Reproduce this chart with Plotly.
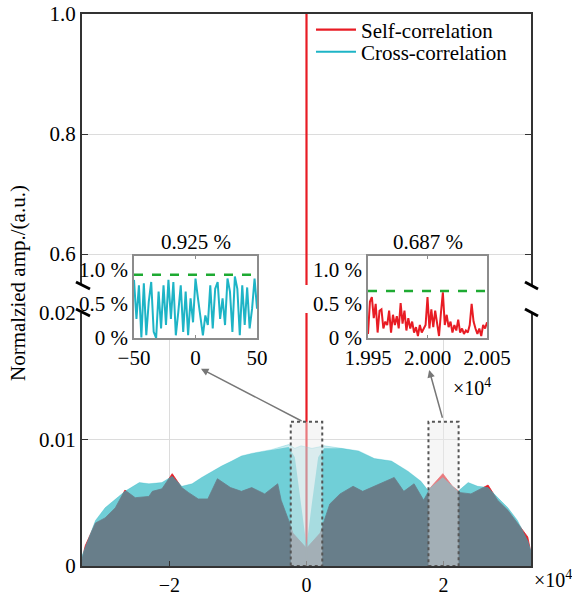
import plotly.graph_objects as go
import numpy as np

FONT = "Liberation Serif, Times New Roman, DejaVu Serif, serif"

# ---------------- data ----------------
# main panel envelopes: lag in units of 1e4, amplitude in units of 1e-3
cross_lag = [-3.277, -3.23, -3.08, -2.94, -2.79, -2.65, -2.44, -2.30, -2.11, -1.96,
             -1.82, -1.67, -1.53, -1.38, -1.24, -1.09, -0.95, -0.80, -0.51, -0.26,
             -0.17, -0.08, 0.0, 0.08, 0.17, 0.26, 0.51, 0.76, 0.99, 1.24,
             1.48, 1.67, 1.77, 1.99, 2.21, 2.36, 2.50, 2.65, 2.79, 2.94,
             3.08, 3.23, 3.277]
cross_outer = [0.8, 1.5, 3.6, 4.6, 5.3, 5.9, 6.6, 6.5, 6.6, 7.1,
               6.3, 6.5, 7.0, 7.5, 7.9, 8.3, 8.7, 8.9, 9.2, 9.6,
               9.3, 9.5, 9.4, 9.3, 9.4, 9.5, 9.3, 9.1, 8.5, 8.3,
               7.5, 6.7, 6.0, 7.0, 5.9, 6.6, 6.3, 6.2, 5.4, 4.6,
               3.6, 2.0, 1.2]
cross_dense = [0.8, 1.5, 3.6, 4.6, 5.3, 5.9, 6.6, 6.5, 6.6, 7.1,
               6.3, 6.5, 7.0, 7.5, 7.9, 8.3, 8.7, 8.9, 9.2, 9.4,
               8.6, 5.0, 1.6, 5.0, 8.6, 9.3, 9.3, 9.1, 8.5, 8.3,
               7.5, 6.7, 6.0, 7.0, 5.9, 6.6, 6.3, 6.2, 5.4, 4.6,
               3.6, 2.0, 1.2]

self_lag = [-3.277, -3.23, -3.08, -2.94, -2.79, -2.65, -2.50, -2.30, -2.25, -2.11,
            -1.96, -1.82, -1.72, -1.58, -1.44, -1.30, -1.11, -0.95, -0.80, -0.61,
            -0.42, -0.37, -0.26, -0.20, 0.0, 0.20, 0.26, 0.34, 0.49, 0.68,
            0.82, 1.06, 1.28, 1.42, 1.57, 1.71, 1.81, 1.99, 2.13, 2.25,
            2.40, 2.65, 2.79, 2.94, 3.08, 3.23, 3.277]
self_val = [0.5, 1.6, 3.4, 3.8, 4.6, 6.0, 5.4, 5.5, 5.9, 6.1,
            7.3, 6.2, 5.8, 5.3, 5.3, 6.9, 6.2, 5.9, 6.2, 5.7,
            6.5, 5.2, 3.6, 2.6, 1.4, 2.6, 3.6, 4.9, 5.7, 6.3,
            5.9, 6.5, 7.0, 5.9, 6.5, 5.2, 6.2, 7.3, 6.3, 5.8,
            5.7, 6.4, 5.2, 4.4, 3.4, 2.3, 1.0]

self_peak_lag = 0
self_peak_value = 1.0

# inset 1: cross-correlation, lags -50..50 (values in %)
inset1_lag = list(range(-50, 51, 2))
inset1_val = [0.85, 0.28, 0.77, 0.01, 0.80, 0.04, 0.53, 0.82, 0.09, 0.00,
              0.68, 0.14, 0.77, 0.19, 0.85, 0.28, 0.82, 0.04, 0.38, 0.77,
              0.09, 0.68, 0.04, 0.58, 0.23, 0.87, 0.58, 0.28, 0.04, 0.33,
              0.19, 0.77, 0.14, 0.72, 0.82, 0.28, 0.58, 0.19, 0.87, 0.68,
              0.09, 0.90, 0.72, 0.04, 0.77, 0.19, 0.74, 0.14, 0.43, 0.87,
              0.43]
inset1_max = 0.925

# inset 2: self-correlation around lag 2e4 (values in %)
inset2_val = [0.06, 0.53, 0.60, 0.29, 0.50, 0.08, 0.40, 0.42, 0.14, 0.24,
              0.19, 0.40, 0.08, 0.34, 0.19, 0.32, 0.14, 0.51, 0.21, 0.40,
              0.11, 0.29, 0.14, 0.24, 0.08, 0.16, 0.03, 0.19, 0.08, 0.14,
              0.19, 0.60, 0.14, 0.42, 0.16, 0.40, 0.19, 0.03, 0.37, 0.67,
              0.19, 0.34, 0.16, 0.24, 0.08, 0.19, 0.11, 0.27, 0.08, 0.14,
              0.06, 0.11, 0.08, 0.19, 0.50, 0.24, 0.14, 0.06, 0.14, 0.03,
              0.19, 0.14, 0.23]
inset2_lag = np.linspace(19950, 20050, len(inset2_val))
inset2_max = 0.687

# ---------------- figure ----------------
RED = "rgb(232,28,36)"
CYAN_FILL1 = "rgba(50,185,200,0.25)"
CYAN_FILL2 = "rgba(30,180,192,0.53)"
CYAN_LINE = "rgb(30,180,198)"
XMAX = 32768
FS = 21

fig = go.Figure()

# lower panel (x, y2)
fig.add_trace(go.Scatter(x=[v * 1e4 for v in self_lag], y=[v * 1e-3 for v in self_val],
                         mode="lines", fill="tozeroy", fillcolor=RED,
                         line=dict(color=RED, width=0.8), xaxis="x", yaxis="y2",
                         showlegend=False, hoverinfo="skip"))
fig.add_trace(go.Scatter(x=[self_peak_lag, self_peak_lag], y=[0, self_peak_value],
                         mode="lines", line=dict(color=RED, width=2.2),
                         xaxis="x", yaxis="y2", name="Self-correlation",
                         showlegend=True, legend="legend"))
fig.add_trace(go.Scatter(x=[v * 1e4 for v in cross_lag], y=[v * 1e-3 for v in cross_outer],
                         mode="lines", fill="tozeroy", fillcolor=CYAN_FILL1,
                         line=dict(color="rgba(50,185,200,0.35)", width=0.8),
                         xaxis="x", yaxis="y2", showlegend=False, hoverinfo="skip"))
fig.add_trace(go.Scatter(x=[v * 1e4 for v in cross_lag], y=[v * 1e-3 for v in cross_dense],
                         mode="lines", fill="tozeroy", fillcolor=CYAN_FILL2,
                         line=dict(color="rgba(30,180,192,0.0)", width=0),
                         xaxis="x", yaxis="y2", showlegend=False, hoverinfo="skip"))

# upper panel (x2, y)
fig.add_trace(go.Scatter(x=[self_peak_lag, self_peak_lag], y=[0, self_peak_value],
                         mode="lines", line=dict(color=RED, width=2.2),
                         xaxis="x2", yaxis="y", showlegend=False))

# inset 1
fig.add_trace(go.Scatter(x=inset1_lag, y=inset1_val, mode="lines",
                         line=dict(color=CYAN_LINE, width=2), xaxis="x3", yaxis="y3",
                         name="Cross-correlation", showlegend=True, legend="legend2"))
fig.add_trace(go.Scatter(x=[-50, 50], y=[inset1_max, inset1_max], mode="lines",
                         line=dict(color="rgb(30,170,50)", width=2.5, dash="dash"),
                         xaxis="x3", yaxis="y3", showlegend=False))
# inset 2
fig.add_trace(go.Scatter(x=inset2_lag, y=inset2_val, mode="lines",
                         line=dict(color=RED, width=2), xaxis="x4", yaxis="y4",
                         showlegend=False))
fig.add_trace(go.Scatter(x=[19950, 20050], y=[inset2_max, inset2_max], mode="lines",
                         line=dict(color="rgb(30,170,50)", width=2.5, dash="dash"),
                         xaxis="x4", yaxis="y4", showlegend=False))

tickfont = dict(family=FONT, size=FS, color="black")
xtickfont = dict(family=FONT, size=20, color="black")
LINEC = "#333333"

LOW_TOP = 0.4583
UP_BOT = 0.509

legfont = dict(family=FONT, size=FS, color="black")
fig.update_layout(
    width=572, height=595,
    margin=dict(l=82, r=41, t=14, b=29, autoexpand=False),
    paper_bgcolor="white", plot_bgcolor="white",
    font=dict(family=FONT, size=FS, color="black"),
    showlegend=True,
    legend=dict(x=0.51, y=0.971, xanchor="left", yanchor="middle",
                bgcolor="rgba(0,0,0,0)", font=legfont, itemwidth=40),
    legend2=dict(x=0.51, y=0.931, xanchor="left", yanchor="middle",
                 bgcolor="rgba(0,0,0,0)", font=legfont, itemwidth=40),
    xaxis=dict(domain=[0, 1], anchor="y2", range=[-XMAX, XMAX], automargin=False,
               tickvals=[-2e4, 0, 2e4], ticktext=["\u22122", "0", "2"],
               showgrid=True, gridcolor="#dcdcdc", gridwidth=1,
               showline=True, linecolor=LINEC, linewidth=2, mirror=False,
               ticks="inside", ticklen=5, tickcolor=LINEC,
               tickfont=xtickfont, zeroline=False),
    yaxis2=dict(domain=[0, LOW_TOP], anchor="x", range=[0, 0.02], automargin=False,
                tickvals=[0, 0.01, 0.02], ticktext=["0", "0.01", "0.02"],
                showgrid=False, showline=True, linecolor=LINEC, linewidth=2,
                mirror="ticks", ticks="inside", ticklen=6, tickcolor=LINEC,
                tickfont=tickfont, zeroline=False),
    xaxis2=dict(domain=[0, 1], anchor="y", range=[-XMAX, XMAX], matches="x",
                automargin=False,
                side="top", showticklabels=False, showgrid=False,
                showline=True, linecolor=LINEC, linewidth=2, ticks="",
                zeroline=False),
    yaxis=dict(domain=[UP_BOT, 1], anchor="x2", range=[0.5483, 1.0], automargin=False,
               tickvals=[0.6, 0.8, 1.0], ticktext=["0.6", "0.8", "1.0"],
               showgrid=True, gridcolor="#dcdcdc", gridwidth=1,
               showline=True, linecolor=LINEC, linewidth=2, mirror="ticks",
               ticks="inside", ticklen=6, tickcolor=LINEC,
               tickfont=tickfont, zeroline=False),
    xaxis3=dict(domain=[0.1158, 0.3898], anchor="y3", range=[-50, 50], automargin=False,
                tickvals=[-50, 0, 50], ticktext=["\u221250", "0", "50"],
                showgrid=False, showline=True, linecolor="#8c8c8c", linewidth=1.5,
                mirror="ticks", ticks="inside", ticklen=3, tickcolor="#8c8c8c",
                tickfont=tickfont, zeroline=False),
    yaxis3=dict(domain=[0.413, 0.5616], anchor="x3", range=[0, 1.2], automargin=False,
                tickvals=[0, 0.5, 1.0], ticktext=["0 %", "0.5 %", "1.0 %"],
                showgrid=False, showline=True, linecolor="#8c8c8c", linewidth=1.5,
                mirror="ticks", ticks="", tickfont=tickfont, zeroline=False),
    xaxis4=dict(domain=[0.637, 0.902], anchor="y4", range=[19950, 20050], automargin=False,
                tickvals=[19950, 20000, 20050], ticktext=["1.995", "2.000", "2.005"],
                showgrid=False, showline=True, linecolor="#8c8c8c", linewidth=1.5,
                mirror="ticks", ticks="inside", ticklen=3, tickcolor="#8c8c8c",
                tickfont=tickfont, zeroline=False),
    yaxis4=dict(domain=[0.413, 0.5616], anchor="x4", range=[0, 1.2], automargin=False,
                tickvals=[0, 0.5, 1.0], ticktext=["0 %", "0.5 %", "1.0 %"],
                showgrid=False, showline=True, linecolor="#8c8c8c", linewidth=1.5,
                mirror="ticks", ticks="", tickfont=tickfont, zeroline=False),
)

shapes = []
# grid line at 0.01 in lower panel
shapes.append(dict(type="line", xref="x domain", yref="y2", x0=0, x1=1, y0=0.01, y1=0.01,
                   line=dict(color="#dcdcdc", width=1), layer="below"))
# zoom boxes
for c, hw in [(0, 0.23e4), (2.0e4, 0.22e4)]:
    shapes.append(dict(type="rect", xref="x", yref="y2", x0=c - hw, x1=c + hw,
                       y0=0, y1=0.0114, fillcolor="rgba(236,236,236,0.45)",
                       line=dict(color="#555555", width=2, dash="dot"), layer="above"))
# axis-break marks
for (x0, x1) in [(-0.0134, 0.0178), (0.9866, 1.0156)]:
    for (y0, y1) in [(0.5145, 0.5018), (0.4656, 0.4529)]:
        shapes.append(dict(type="line", xref="paper", yref="paper", x0=x0, x1=x1,
                           y0=y0, y1=y1, line=dict(color="black", width=3)))
fig.update_layout(shapes=shapes)

ann = []
ann.append(dict(text="Normalzied amp./(a.u.)", xref="paper", yref="paper",
                x=-0.1425, y=0.5127, textangle=-90, showarrow=False,
                xanchor="center", yanchor="middle", font=dict(family=FONT, size=FS)))
ann.append(dict(text="0.925 %", xref="x3 domain", yref="y3 domain", x=0.5, y=1.0,
                xanchor="center", yanchor="bottom", showarrow=False,
                font=dict(family=FONT, size=FS)))
ann.append(dict(text="0.687 %", xref="x4 domain", yref="y4 domain", x=0.5, y=1.0,
                xanchor="center", yanchor="bottom", showarrow=False,
                font=dict(family=FONT, size=FS)))
ann.append(dict(text="\u00d710<sup>4</sup>", xref="paper", yref="paper",
                x=1.002, y=-0.024, xanchor="left", yanchor="middle", showarrow=False,
                font=dict(family=FONT, size=20)))
ann.append(dict(text="\u00d710<sup>4</sup>", xref="paper", yref="paper",
                x=0.822, y=0.325, xanchor="left", yanchor="middle", showarrow=False,
                font=dict(family=FONT, size=20)))
# arrows
ann.append(dict(text="", x=-1.54e4, y=0.0156, ax=-0.05e4, ay=0.0114,
                xref="x", yref="y2", axref="x", ayref="y2", showarrow=True,
                arrowhead=2, arrowsize=1, arrowwidth=1.5, arrowcolor="#777777"))
ann.append(dict(text="", x=1.79e4, y=0.0155, ax=1.99e4, ay=0.0116,
                xref="x", yref="y2", axref="x", ayref="y2", showarrow=True,
                arrowhead=2, arrowsize=1, arrowwidth=1.5, arrowcolor="#777777"))
fig.update_layout(annotations=ann)

fig.write_html("out.html")
